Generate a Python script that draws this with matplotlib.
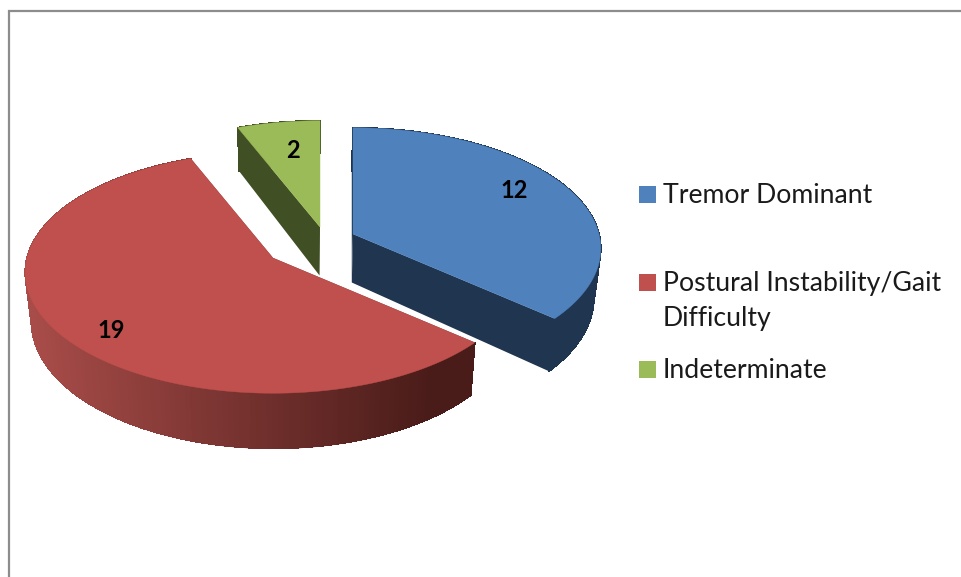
import matplotlib
matplotlib.use("Agg")
import matplotlib.pyplot as plt
import numpy as np
from matplotlib.collections import LineCollection
from matplotlib.colors import to_rgb
from matplotlib.patches import Polygon, Rectangle

categories = ["Tremor Dominant", "Postural Instability/Gait\nDifficulty", "Indeterminate"]
values = [12, 19, 2]

top_colors = ["#4f81bd", "#c0504d", "#9bbb59"]
wall_colors = [("#1f3550", "#1f3550"), ("#a84c49", "#4a1c19"), ("#404f24", "#404f24")]

# layout in image pixels, y pointing down
WIDTH, HEIGHT = 961, 577
tips = [(353, 234), (273, 258), (320, 227)]
label_pos = [(514, 190), (111, 330), (293, 151)]
legend_y = [195.5, 283, 370.5]
RX, RY, PERSP = 246, 119, 0.12
DEPTH = 48.5
VANISH_X, SHRINK = 300, 0.977


def project(tip, theta):
    # theta is clockwise from the back of the disc
    scale = 1 / (1 + PERSP * np.cos(theta))
    x = tip[0] + RX * np.sin(theta) * scale
    y = tip[1] - RY * np.cos(theta) * scale
    return x, y, scale


def lower(x, y, scale):
    return VANISH_X + (x - VANISH_X) * SHRINK, y + DEPTH * scale


def draw_slice(axis, tip, start, stop, top_color, wall_pair):
    thetas = np.linspace(start, stop, 181)
    x, y, scale = project(tip, thetas)
    low_x, low_y = lower(x, y, scale)
    left, right = np.array(to_rgb(wall_pair[0])), np.array(to_rgb(wall_pair[1]))
    mix = np.clip((x - 30) / 400, 0, 1)[:, None]
    colors = left + (right - left) * mix

    # straight cut faces first, then the curved rim in short shaded strips
    tip_low = lower(tip[0], tip[1], 1.0)
    for i in (0, -1):
        face = [tip, (x[i], y[i]), (low_x[i], low_y[i]), tip_low]
        axis.add_patch(Polygon(face, closed=True, facecolor=wall_pair[1], edgecolor="none"))
    for i in range(len(thetas) - 1):
        quad = [(x[i], y[i]), (x[i + 1], y[i + 1]), (low_x[i + 1], low_y[i + 1]), (low_x[i], low_y[i])]
        axis.add_patch(Polygon(quad, closed=True, facecolor=colors[i], edgecolor=colors[i],
                               linewidth=0.5, antialiased=False))

    # soften the stepped lower edge of the rim, under the top face
    points = np.column_stack([low_x, low_y])
    segments = np.stack([points[:-1], points[1:]], axis=1)
    axis.add_collection(LineCollection(segments, colors=colors[:-1], linewidths=0.9, zorder=1))

    outline = [tip] + list(zip(x, y))
    axis.add_patch(Polygon(outline, closed=True, facecolor=top_color, edgecolor=top_color,
                           linewidth=0.3, zorder=1.5))


figure = plt.figure(figsize=(WIDTH / 100, HEIGHT / 100), dpi=100)
axis = figure.add_axes([0, 0, 1, 1])
axis.set_xlim(0, WIDTH)
axis.set_ylim(HEIGHT, 0)
axis.axis("off")

axis.plot([8.5, 8.5, WIDTH], [HEIGHT, 10.5, 10.5], color="#8c8c8c", linewidth=1.6, solid_joinstyle="miter")

edges = np.concatenate([[0], np.cumsum(values)]) / sum(values) * 2 * np.pi
for i in range(len(values)):
    draw_slice(axis, tips[i], edges[i], edges[i + 1], top_colors[i], wall_colors[i])
    axis.text(label_pos[i][0], label_pos[i][1], str(values[i]), fontsize=17, fontweight="bold",
              family="Lato", color="black", ha="center", va="center")

for i, name in enumerate(categories):
    first_line = legend_y[i]
    axis.add_patch(Rectangle((639, first_line - 9.5), 17, 17, facecolor=top_colors[i], edgecolor="none"))
    axis.text(663, first_line, name.split("\n")[0], fontsize=19.2, family="Lato", color="#1a1a1a", va="center")
    if "\n" in name:
        axis.text(663, first_line + 35.5, name.split("\n")[1], fontsize=19.2, family="Lato", color="#1a1a1a", va="center")

figure.savefig("out.png", dpi=100)
plt.close(figure)
